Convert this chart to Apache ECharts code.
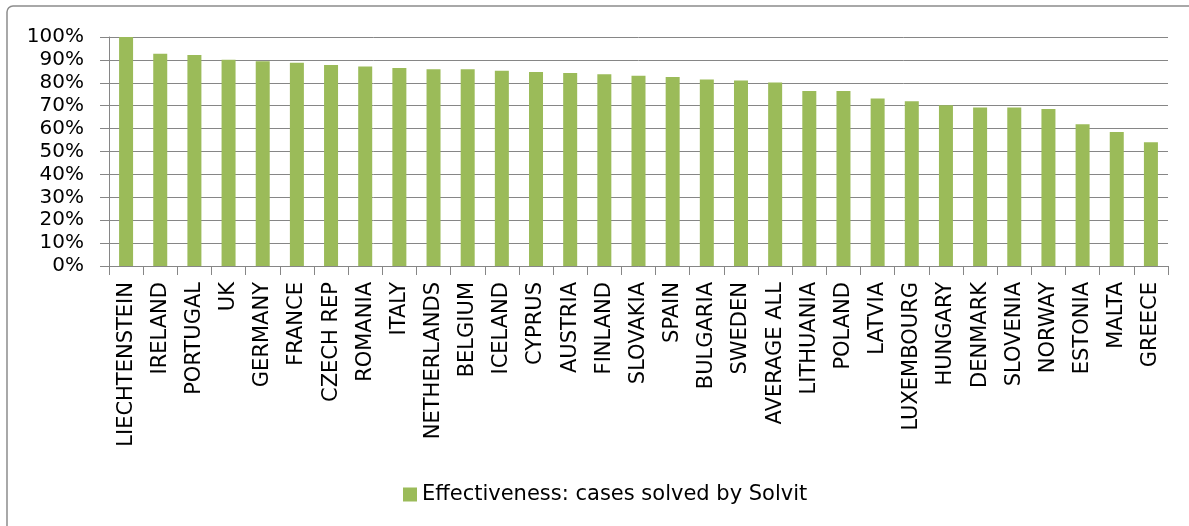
<!DOCTYPE html>
<html>
<head>
<meta charset="utf-8">
<script src="https://cdn.jsdelivr.net/npm/echarts@6/dist/echarts.min.js"></script>
<style>
html,body{margin:0;padding:0;background:#fff;}
#chart{width:1189px;height:526px;}
</style>
</head>
<body>
<div id="chart"></div>
<script>
const categories = ["LIECHTENSTEIN","IRELAND","PORTUGAL","UK","GERMANY","FRANCE","CZECH REP","ROMANIA","ITALY","NETHERLANDS","BELGIUM","ICELAND","CYPRUS","AUSTRIA","FINLAND","SLOVAKIA","SPAIN","BULGARIA","SWEDEN","AVERAGE ALL","LITHUANIA","POLAND","LATVIA","LUXEMBOURG","HUNGARY","DENMARK","SLOVENIA","NORWAY","ESTONIA","MALTA","GREECE"];
const effectiveness = [100,92.7,92.1,90.1,89.4,88.8,87.8,87.1,86.5,85.9,85.9,85.3,84.7,84.3,83.7,83.1,82.5,81.4,81.0,80.1,76.4,76.4,73.1,71.9,70.2,69.2,69.2,68.6,61.9,58.5,54.0];
const seriesName = "Effectiveness: cases solved by Solvit";
const yTicks = {min:0, max:100, interval:10};

const chart = echarts.init(document.getElementById('chart'), null, {renderer:'canvas'});
const font = '"DejaVu Sans", sans-serif';
chart.setOption({
  animation:false,
  graphic:[{type:'rect', shape:{x:7,y:6,width:1200,height:540,r:6}, style:{fill:'none',stroke:'#8c8c8c',lineWidth:1.5}, silent:true}],
  grid:{left:109,top:37,right:21,bottom:260,containLabel:false},
  legend:{
    data:[seriesName], top:479, left:398, itemWidth:14, itemHeight:14, itemGap:8,
    icon:'rect',
    textStyle:{fontFamily:font,fontSize:21,color:'#000'}
  },
  xAxis:{
    type:'category', data:categories, boundaryGap:true,
    axisLine:{lineStyle:{color:'#868686',width:1}},
    axisTick:{show:true,alignWithLabel:false,length:9,lineStyle:{color:'#868686'}},
    axisLabel:{rotate:90,interval:0,margin:16,fontFamily:font,fontSize:21,color:'#000'}
  },
  yAxis:{
    type:'value', min:yTicks.min, max:yTicks.max, interval:yTicks.interval,
    axisLine:{show:true,lineStyle:{color:'#868686',width:1}},
    axisTick:{show:true,length:9,lineStyle:{color:'#868686'}},
    splitLine:{lineStyle:{color:'#868686',width:1}},
    axisLabel:{formatter:'{value}%',fontFamily:font,fontSize:20,color:'#000',margin:25}
  },
  series:[{
    name:seriesName, type:'bar', data:effectiveness, barWidth:14,
    itemStyle:{color:'#9BBB59'}
  }]
});
</script>
</body>
</html>
